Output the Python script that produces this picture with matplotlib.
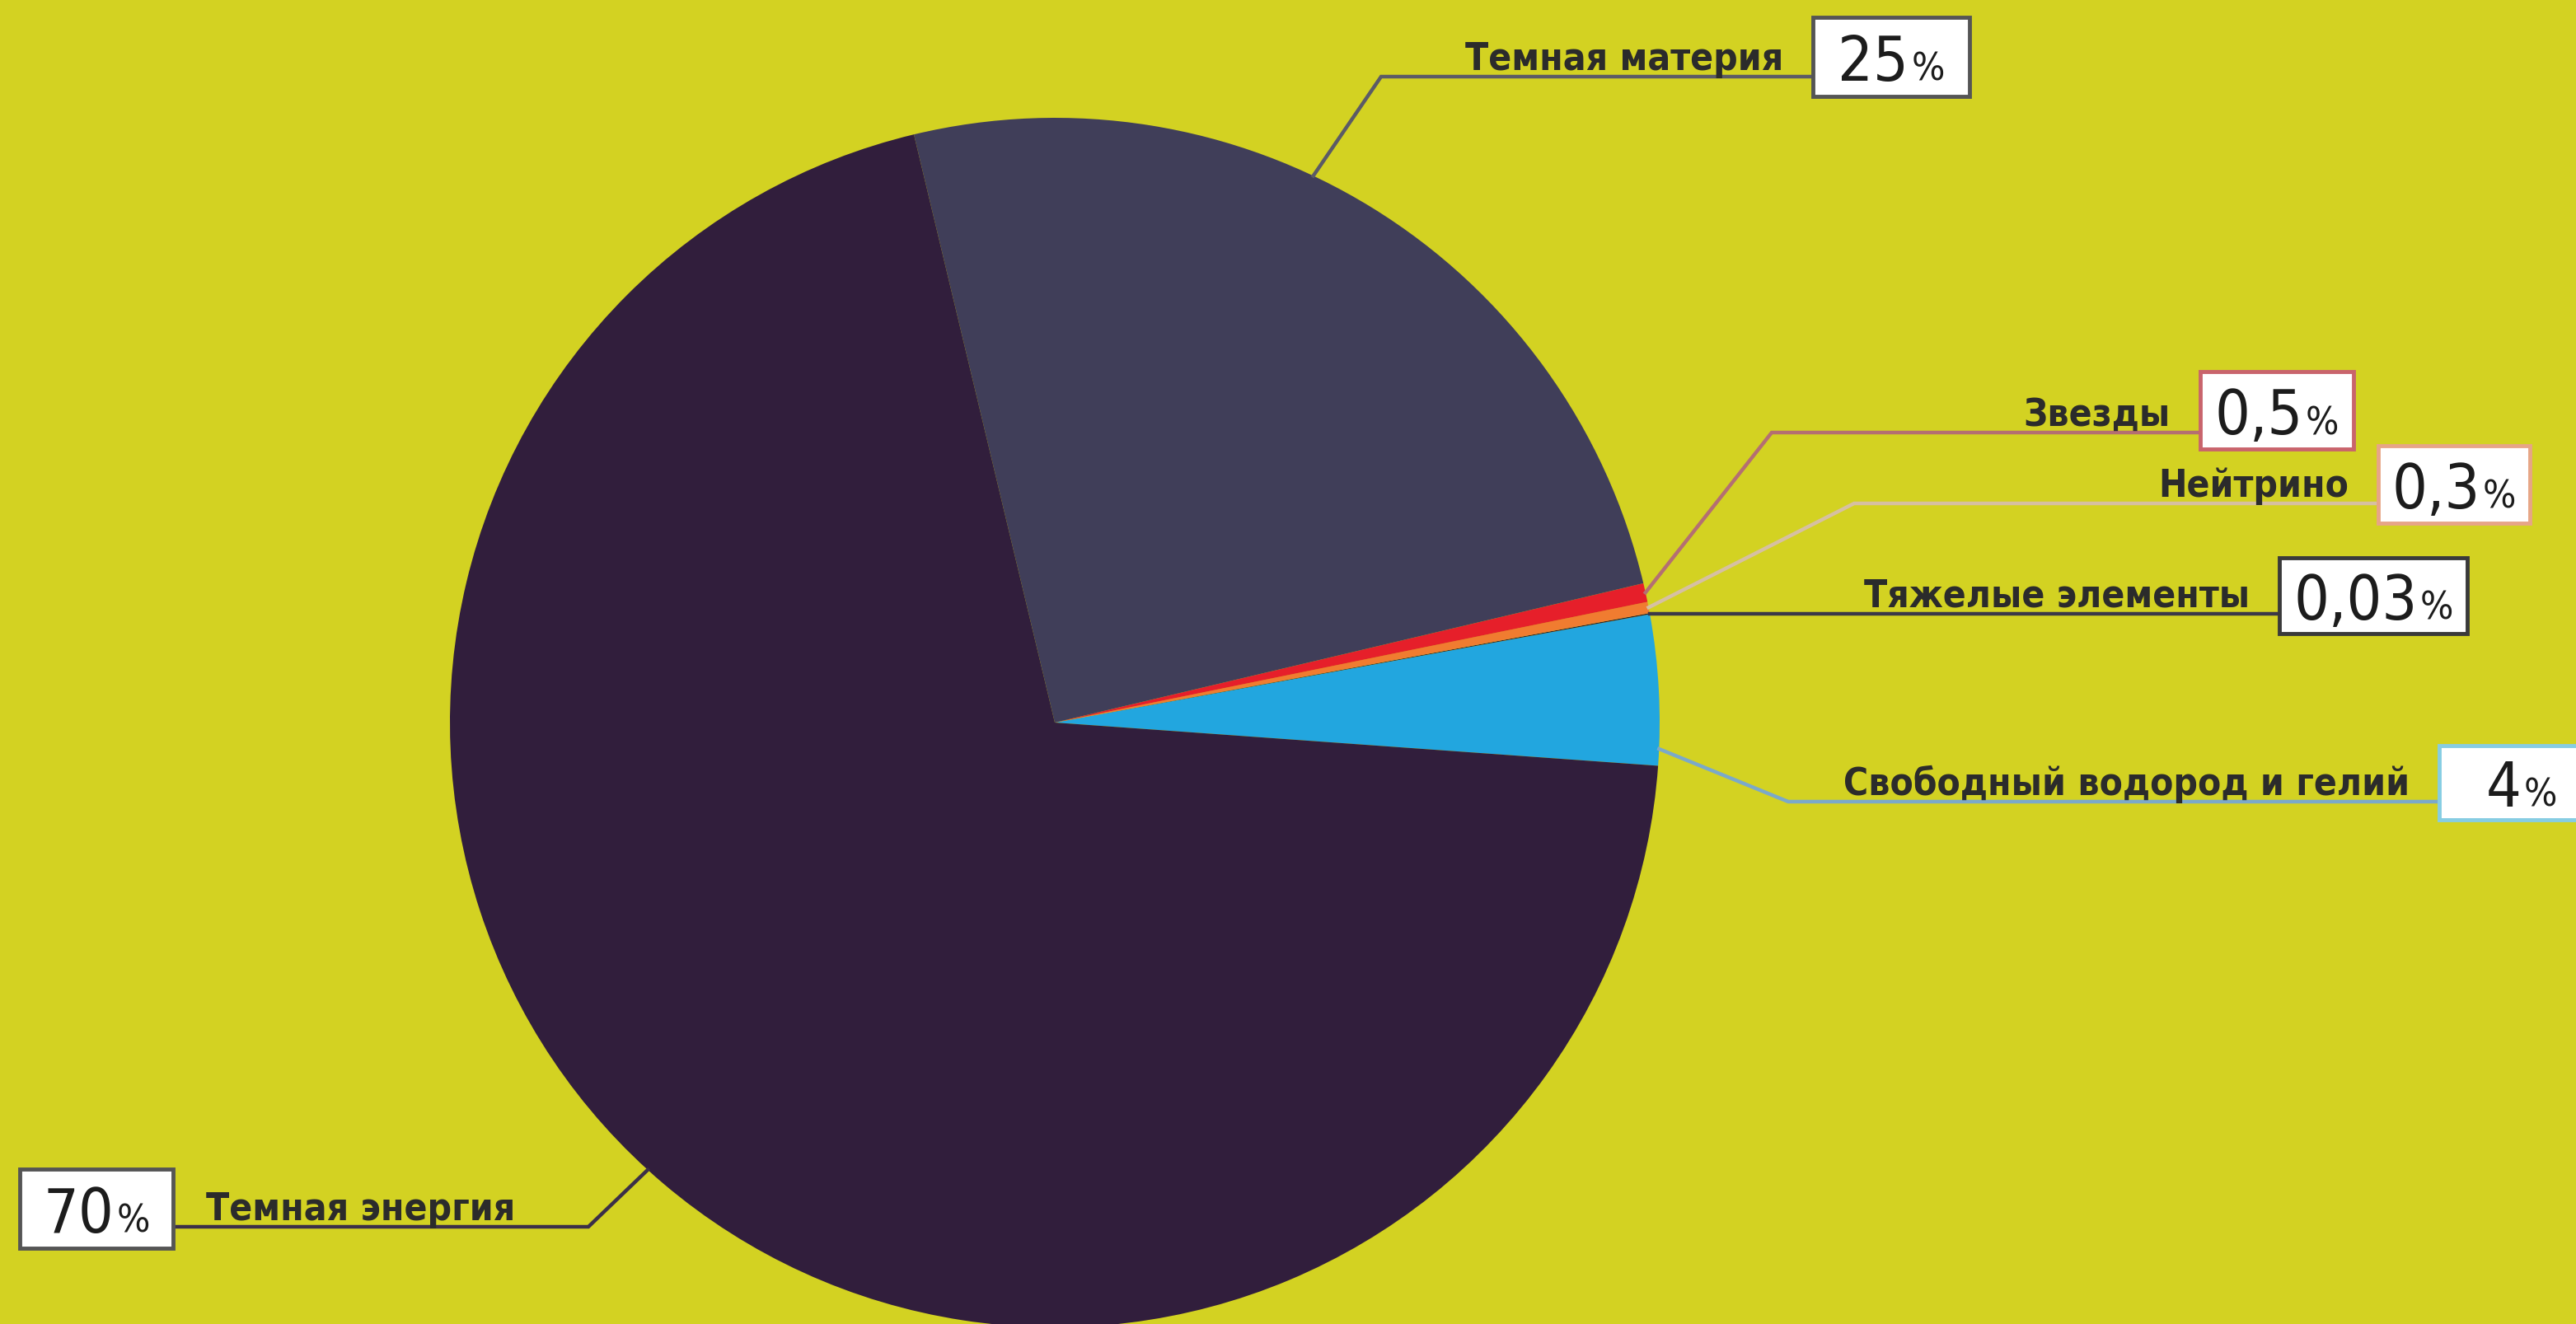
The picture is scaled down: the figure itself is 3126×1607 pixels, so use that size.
import matplotlib
matplotlib.use('Agg')
from matplotlib import pyplot as plt
from matplotlib.patches import Rectangle
import math

W, H = 3126, 1608

# composition of the universe, percent
names = ['Свободный водород и гелий', 'Тяжелые элементы', 'Нейтрино',
         'Звезды', 'Темная материя', 'Темная энергия']
values = [4, 0.03, 0.3, 0.5, 25, 70]
colors = ['#22a6df', '#2b1f2e', '#f07c30', '#e61f2a', '#403e59', '#311e3c']

bg = '#d3d222'
font = ['DejaVu Sans']

# label layout in pixels from top-left: anchor angle on the rim (None = mid of wedge),
# elbow point, box (x0, y0, x1, y1), line colour, box edge colour
layout = [
    dict(ang=-2.5, elbow=(2170, 974), box=(2960, 906, 3160, 996), lc='#7ba9c9', ec='#86cde3'),
    dict(ang=None, elbow=None, box=(2766, 678, 2994, 770), lc='#3b3848', ec='#3a3a3a'),
    dict(ang=None, elbow=(2250, 612), box=(2886, 542, 3070, 636), lc='#d6c0a2', ec='#e7a586'),
    dict(ang=None, elbow=(2150, 526), box=(2670, 452, 2856, 546), lc='#b46f72', ec='#c9646c'),
    dict(ang=64.7, elbow=(1676, 94), box=(2200, 22, 2390, 118), lc='#5b5b66', ec='#555555'),
    dict(ang=227.7, elbow=(714, 1490), box=(24, 1420, 210, 1516), lc='#3b2f48', ec='#555555'),
]


def img(x, y):
    # image coordinates (y down) -> data coordinates (y up)
    return x, H - y


def pct_str(v):
    return ('%g' % v).replace('.', ',')


fig = plt.figure(figsize=(W / 100, H / 100), dpi=100, facecolor=bg)
ax = fig.add_axes([0, 0, 1, 1])

cx, cy = img(1280, 878)
R = 734

wedges, _ = ax.pie(values, colors=colors, startangle=-4.1, counterclock=True,
                   center=(cx, cy), radius=R, frame=True,
                   wedgeprops=dict(linewidth=0))
ax.set_xlim(0, W)
ax.set_ylim(0, H)
ax.set_aspect('equal')
ax.axis('off')

fig.canvas.draw()
renderer = fig.canvas.get_renderer()

for w, name, v, lay in zip(wedges, names, values, layout):
    a = lay['ang']
    if a is None:
        a = (w.theta1 + w.theta2) / 2
    ax0 = cx + R * math.cos(math.radians(a))
    ay0 = cy + R * math.sin(math.radians(a))

    bx0, by0, bx1, by1 = lay['box']
    left_side = bx1 < cx
    if lay['elbow'] is None:
        ly = ay0
        xs, ys = [ax0, bx0], [ly, ly]
    else:
        ex, ey = img(*lay['elbow'])
        ly = ey
        end = bx1 if left_side else bx0
        xs, ys = [ax0, ex, end], [ay0, ey, ey]
    ax.plot(xs, ys, color=lay['lc'], lw=3.2, solid_joinstyle='miter', zorder=3)

    # white value box
    x0, y0 = img(bx0, by1)
    ax.add_patch(Rectangle((x0, y0), bx1 - bx0, by1 - by0, facecolor='white',
                           edgecolor=lay['ec'], lw=3.5, zorder=4))

    # name sitting on the line
    if left_side:
        ax.text(bx1 + 40, ly + 9, name, ha='left', va='baseline', fontsize=33,
                fontweight='bold', fontstretch='condensed', color='#2b2b2b',
                family=font, zorder=5)
    else:
        ax.text(bx0 - 36, ly + 9, name, ha='right', va='baseline', fontsize=33,
                fontweight='bold', fontstretch='condensed', color='#2b2b2b',
                family=font, zorder=5)

    # value: big digits + small percent sign, centred in the box
    bcy = H - (by0 + by1) / 2
    t1 = ax.text(0, bcy, pct_str(v), ha='left', va='baseline', fontsize=54,
                 fontstretch='condensed', color='#1c1c1c', family=font, zorder=5)
    t2 = ax.text(0, bcy, '%', ha='left', va='baseline', fontsize=34,
                 fontstretch='condensed', color='#1c1c1c', family=font, zorder=5)
    w1 = t1.get_window_extent(renderer).width
    w2 = t2.get_window_extent(renderer).width
    start = (bx0 + bx1) / 2 - (w1 + w2 + 3) / 2
    base = bcy - 28
    t1.set_position((start, base))
    t2.set_position((start + w1 + 3, base))

fig.savefig('out.png', dpi=100, facecolor=bg)
